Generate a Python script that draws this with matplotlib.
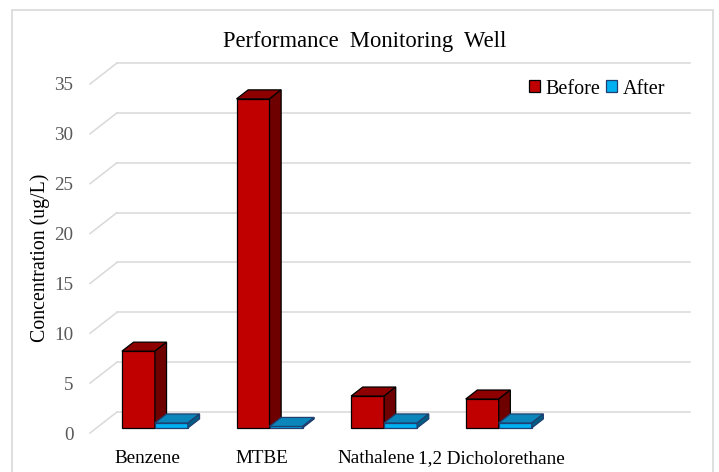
import matplotlib.pyplot as plt
from matplotlib.patches import Polygon, Patch, Rectangle

plt.rcParams['font.family'] = ['Liberation Serif', 'DejaVu Serif']

# data
categories = ['Benzene', 'MTBE', 'Nathalene', '1,2 Dicholorethane']
before = [7.7, 33.0, 3.2, 2.9]
after = [0.5, 0.15, 0.5, 0.5]
yticks = [0, 5, 10, 15, 20, 25, 30, 35]
n_slots = 5  # excel left an empty fifth slot on the axis

# pseudo-3d look
DX, DY = 0.2356, 2.106      # depth of the walls in data units
D0, D1 = 0.24, 0.67         # bar depth range (fraction of wall depth)
W = 0.288                   # bar width
GRID = '#D9D9D9'

red = ('#C00000', '#8E0000', '#6E0000', '#000000')
blue = ('#00B0F0', '#0A86BA', '#005E85', '#1F3F70')


def proj(x, y, d):
    return (x + d * DX, y + d * DY)


def bar3d(ax, x0, v, cols):
    front, top, side, edge = cols
    x1 = x0 + W
    faces = [
        ([proj(x0, 0, D0), proj(x1, 0, D0), proj(x1, v, D0), proj(x0, v, D0)], front),
        ([proj(x0, v, D0), proj(x1, v, D0), proj(x1, v, D1), proj(x0, v, D1)], top),
        ([proj(x1, 0, D0), proj(x1, 0, D1), proj(x1, v, D1), proj(x1, v, D0)], side),
    ]
    for pts, c in faces:
        ax.add_patch(Polygon(pts, closed=True, facecolor=c, edgecolor=edge,
                             linewidth=0.9, joinstyle='miter', clip_on=False, zorder=3))


fig = plt.figure(figsize=(7.19, 4.72), dpi=100)
fig.patches.append(Rectangle((12 / 719, -0.1), 701 / 719, 1.1 - 10 / 472,
                             transform=fig.transFigure, fill=False,
                             edgecolor=GRID, linewidth=1.2))

ax = fig.add_axes([90 / 719, 39 / 472, 573 / 719, 349 / 472])
ax.set_xlim(0, n_slots)
ax.set_ylim(0, 35)
for s in ax.spines.values():
    s.set_visible(False)

# back wall gridlines + side wall diagonals
for v in yticks:
    ax.plot([DX, n_slots + DX], [v + DY, v + DY], color=GRID, lw=1.1, clip_on=False, zorder=1)
    ax.plot([0, DX], [v, v + DY], color=GRID, lw=1.1, clip_on=False, zorder=1)

for i in range(len(categories)):
    left = i + 0.222
    bar3d(ax, left, before[i], red)
    bar3d(ax, left + W, after[i], blue)

ax.set_yticks(yticks)
ax.set_yticklabels([str(v) for v in yticks])
ax.set_xticks([i + 0.5 for i in range(len(categories))])
ax.set_xticklabels(categories)
ax.tick_params(axis='y', length=0, pad=12, labelsize=13.8, labelcolor='#595959')
ax.tick_params(axis='x', length=0, pad=12, labelsize=13.8, labelcolor='#000000')

fig.text(365 / 719, 1 - 41 / 472, 'Performance  Monitoring  Well', ha='center', va='center',
         fontsize=16.3)
fig.text(40 / 719, 1 - 258 / 472, 'Concentration (ug/L)', ha='center', va='center',
         rotation=90, fontsize=14.3)

handles = [Patch(facecolor=red[0], edgecolor=red[3], linewidth=0.9),
           Patch(facecolor=blue[0], edgecolor=blue[3], linewidth=0.9)]
fig.legend(handles, ['Before', 'After'], loc='center', ncol=2,
           bbox_to_anchor=(597 / 719, 1 - 89 / 472), frameon=False, fontsize=14.5,
           handlelength=0.55, handleheight=0.55, handletextpad=0.25, columnspacing=0.3)

fig.savefig('out.png', dpi=100)
